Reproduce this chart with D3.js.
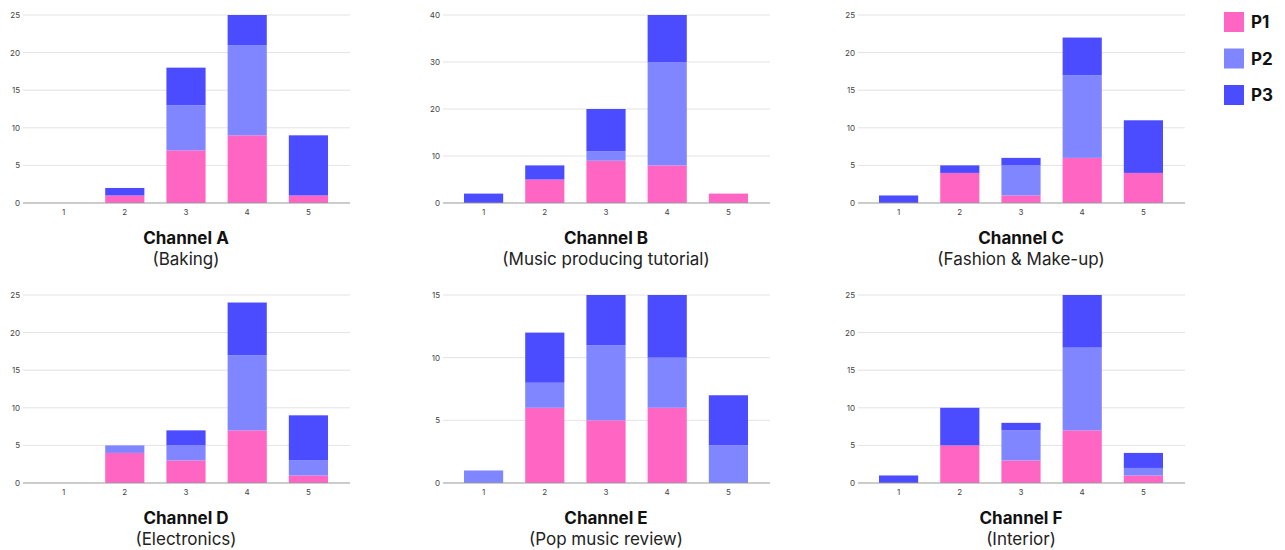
<!DOCTYPE html>
<html>
<head>
<meta charset="utf-8">
<script src="https://cdn.jsdelivr.net/npm/d3@7"></script>
<style>
  body { margin: 0; background: #fff; }
  svg { font-family: Inter, "Noto Sans", sans-serif; }
</style>
</head>
<body>
<svg width="1285" height="550"></svg>
<script>
// data
var categories = ['1', '2', '3', '4', '5'];
var seriesNames = ['P1', 'P2', 'P3'];
var seriesColors = ['#ff66c4', '#7f86ff', '#4b4bff'];

var channelTitles = ['Channel A', 'Channel B', 'Channel C', 'Channel D', 'Channel E', 'Channel F'];
var channelSubtitles = ['(Baking)', '(Music producing tutorial)', '(Fashion & Make-up)',
  '(Electronics)', '(Pop music review)', '(Interior)'];
var yMax = [25, 40, 25, 25, 15, 25];
var yStep = [5, 10, 5, 5, 5, 5];

var p1Values = [
  [0, 1, 7, 9, 1],
  [0, 5, 9, 8, 2],
  [0, 4, 1, 6, 4],
  [0, 4, 3, 7, 1],
  [0, 6, 5, 6, 0],
  [0, 5, 3, 7, 1]
];
var p2Values = [
  [0, 0, 6, 12, 0],
  [0, 0, 2, 22, 0],
  [0, 0, 4, 11, 0],
  [0, 1, 2, 10, 2],
  [1, 2, 6, 4, 3],
  [0, 0, 4, 11, 1]
];
var p3Values = [
  [0, 1, 5, 4, 8],
  [2, 3, 9, 10, 0],
  [1, 1, 1, 5, 7],
  [0, 0, 2, 7, 6],
  [0, 4, 4, 5, 4],
  [1, 5, 1, 7, 2]
];

var svg = d3.select('svg');
var colX = [0, 420, 835];
var rowY = [0, 280];

var color = d3.scaleOrdinal().domain(seriesNames).range(seriesColors);

channelTitles.forEach(function(title, i) {
  var g = svg.append('g')
    .attr('transform', 'translate(' + [colX[i % 3], rowY[Math.floor(i / 3)]] + ')');

  var rows = categories.map(function(c, j) {
    return { cat: c, P1: p1Values[i][j], P2: p2Values[i][j], P3: p3Values[i][j] };
  });
  var stacked = d3.stack().keys(seriesNames)(rows);

  var x = d3.scaleBand().domain(categories).range([33, 339]).paddingInner(0.36).paddingOuter(0.18);
  var y = d3.scaleLinear().domain([0, yMax[i]]).range([203, 15]);
  var ticks = d3.range(0, yMax[i] + 1, yStep[i]);

  // gridlines
  g.selectAll('.grid')
    .data(ticks.slice(1))
    .enter().append('line')
    .attr('x1', 23).attr('x2', 350)
    .attr('y1', function(d) { return y(d); })
    .attr('y2', function(d) { return y(d); })
    .attr('stroke', '#e3e3e3')
    .attr('stroke-width', 1);

  // y labels
  g.selectAll('.ylab')
    .data(ticks)
    .enter().append('text')
    .attr('x', 20)
    .attr('y', function(d) { return y(d) + 3; })
    .attr('text-anchor', 'end')
    .attr('font-size', 8)
    .attr('fill', '#444')
    .text(function(d) { return d; });

  // bars
  var layer = g.selectAll('.layer')
    .data(stacked)
    .enter().append('g')
    .attr('fill', function(d) { return color(d.key); });

  layer.selectAll('rect')
    .data(function(d) { return d; })
    .enter().append('rect')
    .attr('x', function(d) { return x(d.data.cat); })
    .attr('width', x.bandwidth())
    .attr('y', function(d) { return y(d[1]); })
    .attr('height', function(d) { return y(d[0]) - y(d[1]); });

  // baseline
  g.append('line')
    .attr('x1', 23).attr('x2', 350)
    .attr('y1', y(0)).attr('y2', y(0))
    .attr('stroke', '#999')
    .attr('stroke-width', 1);

  // x labels
  g.selectAll('.xlab')
    .data(categories)
    .enter().append('text')
    .attr('x', function(d) { return x(d) + x.bandwidth() / 2; })
    .attr('y', 215)
    .attr('text-anchor', 'middle')
    .attr('font-size', 8)
    .attr('fill', '#444')
    .text(function(d) { return d; });

  // titles
  g.append('text')
    .attr('x', 186).attr('y', 244)
    .attr('text-anchor', 'middle')
    .attr('font-size', 17)
    .attr('font-weight', 'bold')
    .attr('fill', '#111')
    .text(title);

  g.append('text')
    .attr('x', 186).attr('y', 265)
    .attr('text-anchor', 'middle')
    .attr('font-size', 17)
    .attr('fill', '#222')
    .text(channelSubtitles[i]);
});

// legend
var legend = svg.selectAll('.legend')
  .data(seriesNames)
  .enter().append('g')
  .attr('transform', function(d, i) { return 'translate(' + [1224, 12 + i * 36.5] + ')'; });

legend.append('rect')
  .attr('width', 20).attr('height', 20)
  .attr('fill', function(d) { return color(d); });

legend.append('text')
  .attr('x', 27).attr('y', 16)
  .attr('font-size', 17)
  .attr('font-weight', 'bold')
  .attr('fill', '#111')
  .text(function(d) { return d; });
</script>
</body>
</html>
